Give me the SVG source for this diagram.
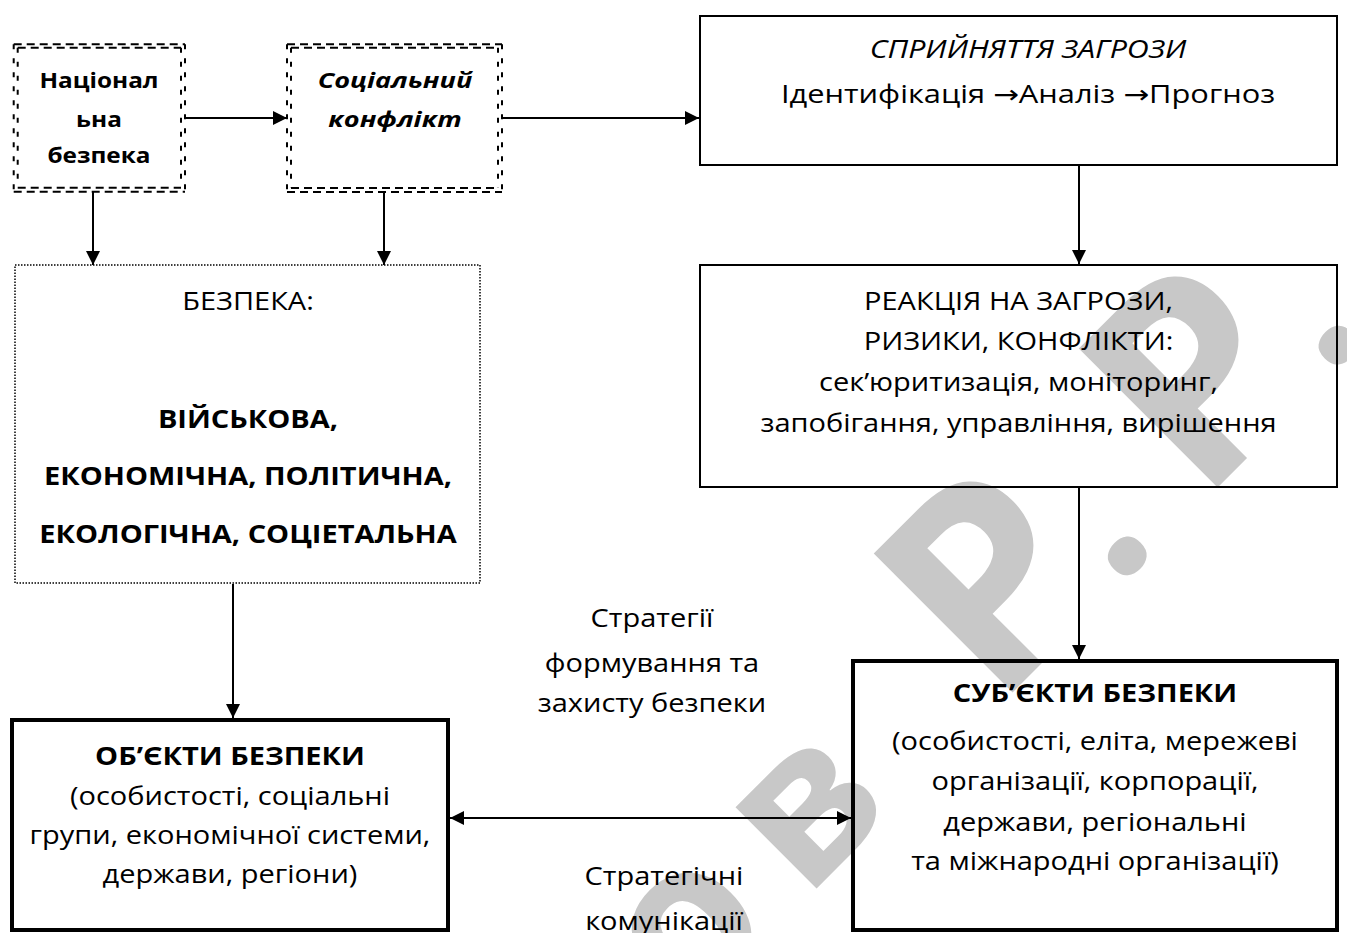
<svg xmlns="http://www.w3.org/2000/svg" width="1347" height="933" viewBox="0 0 1347 933">
  <defs>
    <style>
      .txt { font-family: "Open Sans", "Noto Sans", "DejaVu Sans", sans-serif; font-size: 25px; fill: #000; text-anchor: middle; }
      .sm { font-size: 21px; }
      .md { font-size: 22px; }
      .b { font-weight: bold; }
      .i { font-style: italic; }
      .box { fill: none; stroke: #000; stroke-width: 2; }
      .heavy { fill: none; stroke: #000; stroke-width: 4; }
      .dotted { fill: none; stroke: #000; stroke-width: 1.5; stroke-dasharray: 1.5 1.5; }
      .dh { fill: none; stroke: #000; stroke-width: 2; stroke-dasharray: 8 5; }
      .dv { fill: none; stroke: #000; stroke-width: 2; stroke-dasharray: 5 9; }
      .link { fill: none; stroke: #000; stroke-width: 2; marker-end: url(#arrow); }
      .both { marker-start: url(#arrow); }
      .wm { font-family: "Open Sans", "Noto Sans", sans-serif; font-weight: bold; fill: #c8c8c8; text-anchor: middle; }
    </style>
    <marker id="arrow" viewBox="0 0 14 14" refX="14" refY="7" markerWidth="14" markerHeight="14" markerUnits="userSpaceOnUse" orient="auto-start-reverse">
      <path d="M0,0 L14,7 L0,14 z" fill="#000"/>
    </marker>
  </defs>

  <rect width="1347" height="933" fill="#fff"/>

  <!-- background watermark, rotated along the diagonal -->
  <g id="watermark" transform="translate(852.5 852.5) rotate(-45)">
    <text class="wm" x="-170" y="0" font-size="210">о</text>
    <text class="wm" x="-1" y="0" font-size="210">в</text>
    <text class="wm" x="288" y="0" font-size="275">Р</text>
    <text class="wm" x="404" y="0" font-size="220">.</text>
    <text class="wm" x="578" y="0" font-size="275">Р</text>
    <text class="wm" x="702" y="0" font-size="220">.</text>
  </g>

  <!-- connectors -->
  <g id="connectors">
    <path class="link" d="M186 118 H287"/>
    <path class="link" d="M503 118 H699"/>
    <path class="link" d="M93 192 V265"/>
    <path class="link" d="M384 192 V265"/>
    <path class="link" d="M1079 165 V264"/>
    <path class="link" d="M233 584 V718"/>
    <path class="link" d="M1079 487 V659"/>
    <path class="link both" d="M450 818 H851"/>
  </g>

  <!-- national security (double dashed frame) -->
  <g id="national">
    <path class="dh" d="M13.7 44.3 H185 M17.7 47.7 H181 M13.7 191.7 H185 M17.7 187.7 H181"/>
    <path class="dv" d="M13.7 44.3 V191.7 M17.7 47.7 V187.7 M185 44.3 V191.7 M181 47.7 V187.7"/>
    <g transform="translate(99 0) scale(1.16 1) translate(-99 0)">
      <text class="txt sm b" x="99" y="88">Націонал</text>
      <text class="txt sm b" x="99" y="127">ьна</text>
      <text class="txt sm b" x="99" y="163">безпека</text>
    </g>
  </g>

  <!-- social conflict (double dashed frame) -->
  <g id="conflict">
    <path class="dh" d="M287 44.3 H502 M291 47.7 H498 M287 192 H502 M291 188 H498"/>
    <path class="dv" d="M287 44.3 V192 M291 47.7 V188 M502 44.3 V192 M498 47.7 V188"/>
    <g transform="translate(395 0) scale(1.23 1) translate(-395 0)">
      <text class="txt md b i" x="395" y="88">Соціальний</text>
      <text class="txt md b i" x="395" y="127">конфлікт</text>
    </g>
  </g>

  <!-- threat perception -->
  <g id="perception">
    <rect class="box" x="700" y="16" width="637" height="149"/>
    <g transform="translate(1028 0) scale(1.16 1) translate(-1028 0)">
      <text class="txt i" x="1028" y="58" textLength="273" lengthAdjust="spacingAndGlyphs">СПРИЙНЯТТЯ ЗАГРОЗИ</text>
      <text class="txt" x="1028" y="103" textLength="426" lengthAdjust="spacingAndGlyphs">Ідентифікація →Аналіз →Прогноз</text>
    </g>
  </g>

  <!-- reaction -->
  <g id="reaction">
    <rect class="box" x="700" y="265" width="637" height="222"/>
    <g transform="translate(1018.5 0) scale(1.16 1) translate(-1018.5 0)">
      <text class="txt" x="1018.5" y="310">РЕАКЦІЯ НА ЗАГРОЗИ,</text>
      <text class="txt" x="1018.5" y="350">РИЗИКИ, КОНФЛІКТИ:</text>
      <text class="txt" x="1018.5" y="391">сек’юритизація, моніторинг,</text>
      <text class="txt" x="1018.5" y="432">запобігання, управління, вирішення</text>
    </g>
  </g>

  <!-- security kinds (dotted frame) -->
  <g id="security">
    <rect class="dotted" x="15" y="265" width="465" height="318"/>
    <g transform="translate(248 0) scale(1.16 1) translate(-248 0)">
      <text class="txt" x="248" y="310">БЕЗПЕКА:</text>
      <text class="txt b" x="248" y="428">ВІЙСЬКОВА,</text>
      <text class="txt b" x="248" y="485">ЕКОНОМІЧНА, ПОЛІТИЧНА,</text>
      <text class="txt b" x="248" y="543">ЕКОЛОГІЧНА, СОЦІЕТАЛЬНА</text>
    </g>
  </g>

  <!-- objects of security -->
  <g id="objects">
    <rect class="heavy" x="12" y="720" width="436" height="210"/>
    <g transform="translate(230 0) scale(1.16 1) translate(-230 0)">
      <text class="txt b" x="230" y="765">ОБ’ЄКТИ БЕЗПЕКИ</text>
      <text class="txt" x="230" y="805">(особистості, соціальні</text>
      <text class="txt" x="230" y="844">групи, економічної системи,</text>
      <text class="txt" x="230" y="883">держави, регіони)</text>
    </g>
  </g>

  <!-- subjects of security -->
  <g id="subjects">
    <rect class="heavy" x="853" y="661" width="484" height="269"/>
    <g transform="translate(1095 0) scale(1.16 1) translate(-1095 0)">
      <text class="txt b" x="1095" y="702">СУБ’ЄКТИ БЕЗПЕКИ</text>
      <text class="txt" x="1095" y="750">(особистості, еліта, мережеві</text>
      <text class="txt" x="1095" y="790">організації, корпорації,</text>
      <text class="txt" x="1095" y="831">держави, регіональні</text>
      <text class="txt" x="1095" y="870">та міжнародні організації)</text>
    </g>
  </g>

  <!-- labels of the two-way link -->
  <g id="labels">
    <g transform="translate(652 0) scale(1.16 1) translate(-652 0)">
      <text class="txt" x="652" y="627">Стратегії</text>
      <text class="txt" x="652" y="672">формування та</text>
      <text class="txt" x="652" y="712">захисту безпеки</text>
    </g>
    <g transform="translate(664 0) scale(1.16 1) translate(-664 0)">
      <text class="txt" x="664" y="885">Стратегічні</text>
      <text class="txt" x="664" y="930">комунікації</text>
    </g>
  </g>
</svg>
